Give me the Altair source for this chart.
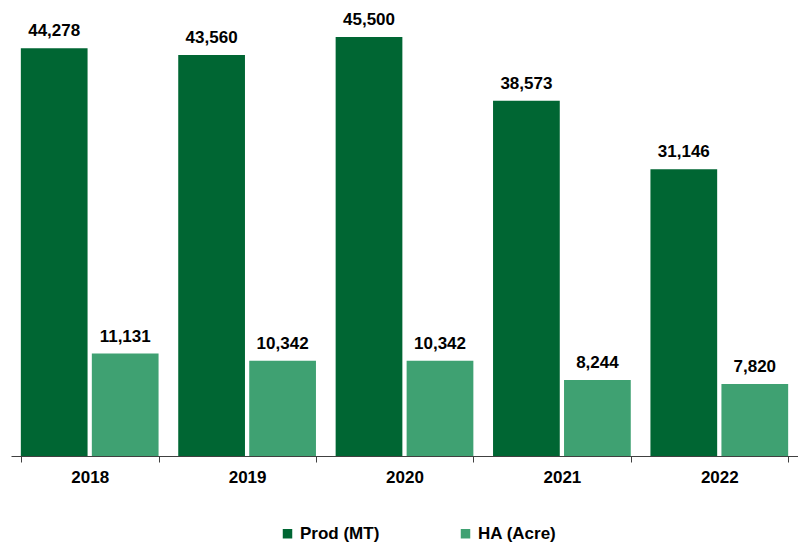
import altair as alt
import pandas as pd

years = ["2018", "2019", "2020", "2021", "2022"]
prod_mt = [44278, 43560, 45500, 38573, 31146]
ha_acre = [11131, 10342, 10342, 8244, 7820]
series_names = ["Prod (MT)", "HA (Acre)"]
colors = ["#006633", "#3FA172"]

rows = []
for i, y in enumerate(years):
    rows.append({"year": y, "series": series_names[0], "value": prod_mt[i]})
    rows.append({"year": y, "series": series_names[1], "value": ha_acre[i]})
df = pd.DataFrame(rows)

FONT = "Liberation Sans"

x_enc = alt.X("year:N", sort=years, title=None,
              scale=alt.Scale(paddingInner=0.125, paddingOuter=0.0625),
              axis=alt.Axis(labelAngle=0, labelFont=FONT, labelFontSize=17,
                            labelFontWeight="bold", labelColor="#000000",
                            tickBand="extent", tickSize=6, tickColor="#404040",
                            domainColor="#404040", labelPadding=7, grid=False))
xo_enc = alt.XOffset("series:N", sort=series_names,
                     scale=alt.Scale(paddingInner=0.06, paddingOuter=0))
y_enc = alt.Y("value:Q", title=None,
              scale=alt.Scale(domain=[0, 48000], nice=False),
              axis=None)

bars = alt.Chart(df).mark_bar().encode(
    x=x_enc,
    xOffset=xo_enc,
    y=y_enc,
    color=alt.Color("series:N", sort=series_names, title=None,
                    scale=alt.Scale(domain=series_names, range=colors),
                    legend=alt.Legend(orient="none", legendX=268, legendY=511,
                                      direction="horizontal", symbolType="square",
                                      symbolSize=90, symbolStrokeWidth=0,
                                      labelFont=FONT, labelFontSize=17,
                                      labelFontWeight="bold", labelColor="#000000",
                                      labelOffset=4, columnPadding=77,
                                      labelLimit=200)),
)

labels = alt.Chart(df).mark_text(baseline="bottom", dy=-8, font=FONT,
                                 fontSize=17, fontWeight="bold",
                                 color="#000000").encode(
    x=alt.X("year:N", sort=years),
    xOffset=alt.XOffset("series:N", sort=series_names),
    y=alt.Y("value:Q"),
    text=alt.Text("value:Q", format=","),
)

chart = (bars + labels).properties(
    width=787, height=442,
    autosize=alt.AutoSizeParams(type="none"),
    padding={"left": 3, "top": 6, "right": 0, "bottom": 86},
).configure_view(stroke=None)

chart.save("out.html", embed_options={"renderer": "svg", "actions": False})
